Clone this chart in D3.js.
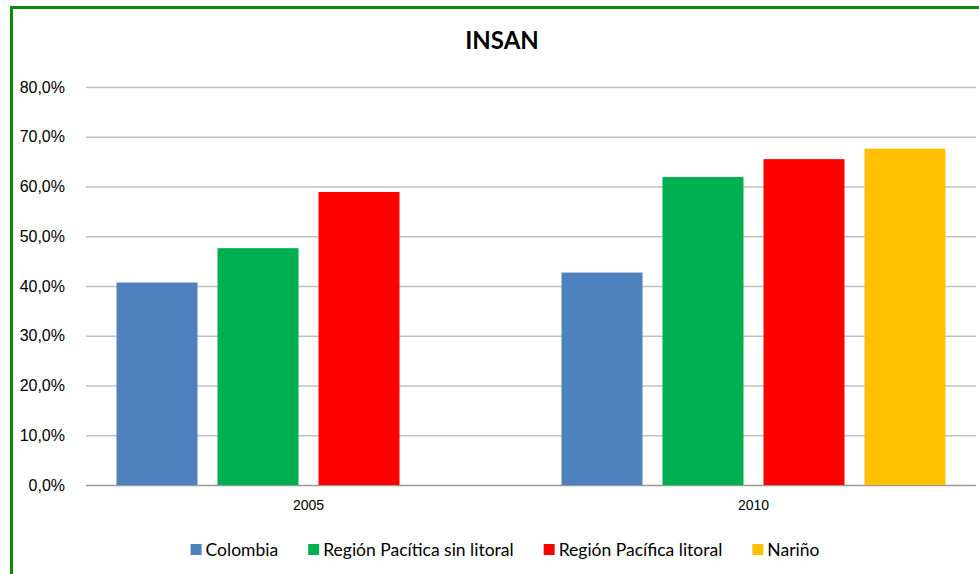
<!DOCTYPE html>
<html>
<head>
<meta charset="utf-8">
<script src="https://cdn.jsdelivr.net/npm/d3@7"></script>
<style>
  body { margin: 0; background: #fff; }
  svg { display: block; font-family: Lato, 'Open Sans', sans-serif; }
  .grid line { stroke: #c0c0c0; stroke-width: 1.5; }
  .grid .domain { display: none; }
  .axis-y text { font-size: 16px; fill: #000; }
  .axis-x text { font-size: 14px; fill: #000; }
  .legend text { font-size: 17.5px; fill: #000; }
</style>
</head>
<body>
<svg id="chart"></svg>
<script>
//chart data
var years = ['2005', '2010'];
var seriesNames = ['Colombia', 'Región Pacítica sin litoral', 'Región Pacífica litoral', 'Nariño'];
var colombia = [0.407, 0.427];
var sinLitoral = [0.476, 0.619];
var litoral = [0.589, 0.655];
var narino = [null, 0.676];
var yTicks = [0, 0.1, 0.2, 0.3, 0.4, 0.5, 0.6, 0.7, 0.8];
var colors = ['#4f81bd', '#00b050', '#ff0000', '#ffc000'];

function insanChart() {
    //chart parameters
    var svg = d3.select('#chart')
        .attr('width', 979)
        .attr('height', 574);

    //define margins and chart extent
    var margin = {top: 87, right: 3, bottom: 89, left: 86},
        width = +svg.attr('width') - margin.left - margin.right,
        height = +svg.attr('height') - margin.top - margin.bottom;

    //green frame
    svg.append('rect')
        .attr('x', 11.5)
        .attr('y', 7.5)
        .attr('width', 1000)
        .attr('height', 600)
        .style('fill', 'none')
        .style('stroke', '#0a8a0a')
        .style('stroke-width', 3);

    //title
    svg.append('text')
        .attr('x', 502)
        .attr('y', 49)
        .attr('text-anchor', 'middle')
        .style('font-size', '24px')
        .style('font-weight', 'bold')
        .text('INSAN');

    //build table
    var values = [colombia, sinLitoral, litoral, narino];
    var data = years.map((yr, i) => ({
        year: yr,
        bars: seriesNames.map((s, j) => ({key: s, idx: j, value: values[j][i]}))
    }));

    //define scales
    var x0 = d3.scaleBand().domain(years).range([0, width]).padding(0),
        x1 = d3.scaleBand().domain(seriesNames).range([0, x0.bandwidth()])
            .paddingInner(0.198).paddingOuter(0.302),
        yScale = d3.scaleLinear().domain([0, 0.8]).range([height, 0]);

    var locale = d3.formatLocale({decimal: ',', thousands: '.', grouping: [3], currency: ['$', '']});
    var pct = locale.format('.1%');

    //create chart group
    var canvas = svg.append('g')
        .attr('transform', 'translate(' + margin.left + ',' + margin.top + ')');

    //gridlines
    canvas.append('g')
        .attr('class', 'grid')
        .call(d3.axisLeft(yScale).tickValues(yTicks).tickSize(-width).tickFormat(''))
        .selectAll('line')
        .style('stroke', d => d === 0 ? '#999' : null);

    //y axis labels
    var yAxis = canvas.append('g')
        .attr('class', 'axis-y')
        .call(d3.axisLeft(yScale).tickValues(yTicks).tickFormat(pct).tickSize(0).tickPadding(21));
    yAxis.select('.domain').remove();

    //x axis labels
    var xAxis = canvas.append('g')
        .attr('class', 'axis-x')
        .attr('transform', 'translate(0,' + height + ')')
        .call(d3.axisBottom(x0).tickSize(0).tickPadding(15));
    xAxis.select('.domain').remove();

    //bars
    var group = canvas.selectAll('.year').data(data)
        .enter().append('g')
            .attr('class', 'year')
            .attr('transform', d => 'translate(' + x0(d.year) + ',0)');

    group.selectAll('rect').data(d => d.bars.filter(b => b.value != null))
        .enter().append('rect')
            .attr('x', d => x1(d.key))
            .attr('y', d => yScale(d.value))
            .attr('width', x1.bandwidth())
            .attr('height', d => height - yScale(d.value))
            .style('fill', d => colors[d.idx]);

    //legend
    var legend = svg.append('g').attr('class', 'legend');
    var item = legend.selectAll('g').data(seriesNames)
        .enter().append('g');
    item.append('rect')
        .attr('y', 544)
        .attr('width', 11)
        .attr('height', 11)
        .style('fill', (d, i) => colors[i]);
    item.append('text')
        .attr('x', 15)
        .attr('y', 556)
        .text(d => d);

    var pos = 0;
    item.each(function() {
        var w = 15 + this.querySelector('text').getComputedTextLength();
        d3.select(this).attr('data-x', pos);
        pos += w + 30;
    });
    var total = pos - 30,
        start = 505 - total / 2;
    item.attr('transform', function() {
        return 'translate(' + (start + +this.getAttribute('data-x')) + ',0)';
    });
}

insanChart();
</script>
</body>
</html>
